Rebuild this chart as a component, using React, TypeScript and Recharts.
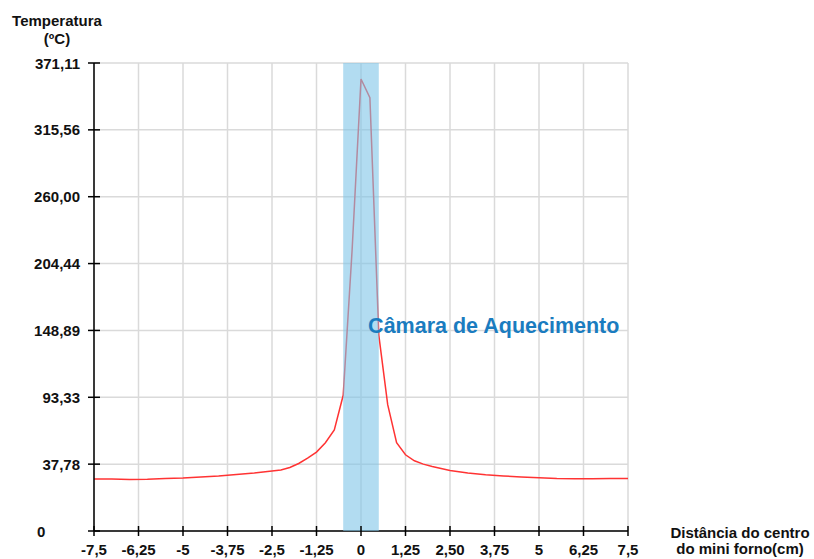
import {
  LineChart,
  Line,
  XAxis,
  YAxis,
  CartesianGrid,
  ReferenceArea,
  ReferenceDot,
} from 'recharts';

// distância ao centro do mini forno (cm)
const distancias = [
  -7.5, -7, -6.5, -6, -5.5, -5, -4.5, -4, -3.5, -3, -2.5, -2.25, -2, -1.75,
  -1.5, -1.25, -1, -0.75, -0.5, -0.25, 0, 0.25, 0.5, 0.75, 1, 1.25, 1.5, 1.75,
  2, 2.5, 3, 3.5, 4, 4.5, 5, 5.5, 6, 6.5, 7, 7.5,
];

// leitura em °F (a escala do eixo é em °F, os rótulos em °C)
const temperaturasF = [
  77.8, 77.8, 77, 77.3, 78.5, 79.3, 80.8, 82.3, 84.5, 86.8, 89.7, 91.2, 95,
  101, 109, 118, 132, 151, 203, 420, 676, 648, 293, 189, 132, 114, 105, 100,
  96.5, 90.5, 86.8, 84, 82.3, 80.8, 79.6, 78.5, 78, 78.2, 78.5, 78.5,
];

const xTicks = [-7.5, -6.25, -5, -3.75, -2.5, -1.25, 0, 1.25, 2.5, 3.75, 5, 6.25, 7.5];
const xTickLabels = ['-7,5', '-6,25', '-5', '-3,75', '-2,5', '-1,25', '0', '1,25', '2,50', '3,75', '5', '6,25', '7,5'];

const yTicks = [0, 100, 200, 300, 400, 500, 600, 700];
const yTickLabels = ['0', '37,78', '93,33', '148,89', '204,44', '260,00', '315,56', '371,11'];

const camara = { x1: -0.5, x2: 0.5, label: 'Câmara de Aquecimento', labelX: 0.2, labelY: 307 };

const data = distancias.map((d, i) => ({ d, t: temperaturasF[i] }));

const FONT = '"Liberation Sans", Arial, sans-serif';

function YTick({ x, y, payload }: any) {
  const axisX = x + 8;
  const i = yTicks.indexOf(payload.value);
  const first = payload.value === 0;
  return (
    <g>
      <line x1={axisX - 6} x2={axisX + 6} y1={y} y2={y} stroke="#000" strokeWidth={1.5} />
      <text
        x={first ? axisX - 57 : axisX - 14}
        y={y}
        textAnchor={first ? 'start' : 'end'}
        dominantBaseline="central"
        fontFamily={FONT}
        fontWeight="bold"
        fontSize={15}
        fill="#111"
      >
        {yTickLabels[i]}
      </text>
    </g>
  );
}

function XTick({ x, y, payload }: any) {
  const axisY = y - 8;
  const i = xTicks.indexOf(payload.value);
  return (
    <g>
      <line x1={x} x2={x} y1={axisY - 5} y2={axisY + 5} stroke="#000" strokeWidth={1.5} />
      <text
        x={x}
        y={axisY + 24}
        textAnchor="middle"
        fontFamily={FONT}
        fontWeight="bold"
        fontSize={15}
        fill="#111"
      >
        {xTickLabels[i]}
      </text>
    </g>
  );
}

function CamaraLabel({ viewBox }: any) {
  return (
    <text
      x={viewBox.x}
      y={viewBox.y}
      dominantBaseline="central"
      fontFamily={FONT}
      fontWeight="bold"
      fontSize={21.5}
      fill="#1a7cc0"
    >
      {camara.label}
    </text>
  );
}

const titleStyle = {
  position: 'absolute' as const,
  fontFamily: FONT,
  fontWeight: 'bold' as const,
  fontSize: 15,
  color: '#111',
  textAlign: 'center' as const,
  whiteSpace: 'nowrap' as const,
};

export default function App() {
  return (
    <div style={{ position: 'absolute', left: 0, top: 0, width: 814, height: 559, background: '#fff' }}>
      <LineChart
        width={814}
        height={559}
        data={data}
        margin={{ top: 63, right: 186, bottom: 0, left: 0 }}
      >
        <CartesianGrid stroke="#dadada" strokeWidth={1.5} />
        <XAxis
          dataKey="d"
          type="number"
          domain={[-7.5, 7.5]}
          ticks={xTicks}
          interval={0}
          height={28}
          tickSize={6}
          tickMargin={2}
          tickLine={false}
          tick={<XTick />}
          axisLine={{ stroke: '#000', strokeWidth: 1.5 }}
        />
        <YAxis
          type="number"
          domain={[0, 700]}
          ticks={yTicks}
          interval={0}
          width={94}
          tickSize={6}
          tickMargin={2}
          tickLine={false}
          tick={<YTick />}
          axisLine={{ stroke: '#000', strokeWidth: 1.5 }}
        />
        <Line
          type="linear"
          dataKey="t"
          stroke="#ff3333"
          strokeWidth={1.5}
          dot={false}
          activeDot={false}
          isAnimationActive={false}
        />
        {/* faixa translúcida por cima da curva */}
        <ReferenceArea
          x1={camara.x1}
          x2={camara.x2}
          fill="#7fc5e8"
          fillOpacity={0.6}
          stroke="none"
          {...({ zIndex: 700 } as any)}
        />
        <ReferenceDot
          x={camara.labelX}
          y={camara.labelY}
          r={0}
          stroke="none"
          fill="none"
          label={<CamaraLabel />}
          {...({ zIndex: 800 } as any)}
        />
      </LineChart>
      <div style={{ ...titleStyle, left: 0, top: 12, width: 114, lineHeight: '18px' }}>
        Temperatura
        <br />
        (ºC)
      </div>
      <div style={{ ...titleStyle, left: 660, top: 525, width: 160, lineHeight: '16px' }}>
        Distância do centro
        <br />
        do mini forno(cm)
      </div>
    </div>
  );
}
